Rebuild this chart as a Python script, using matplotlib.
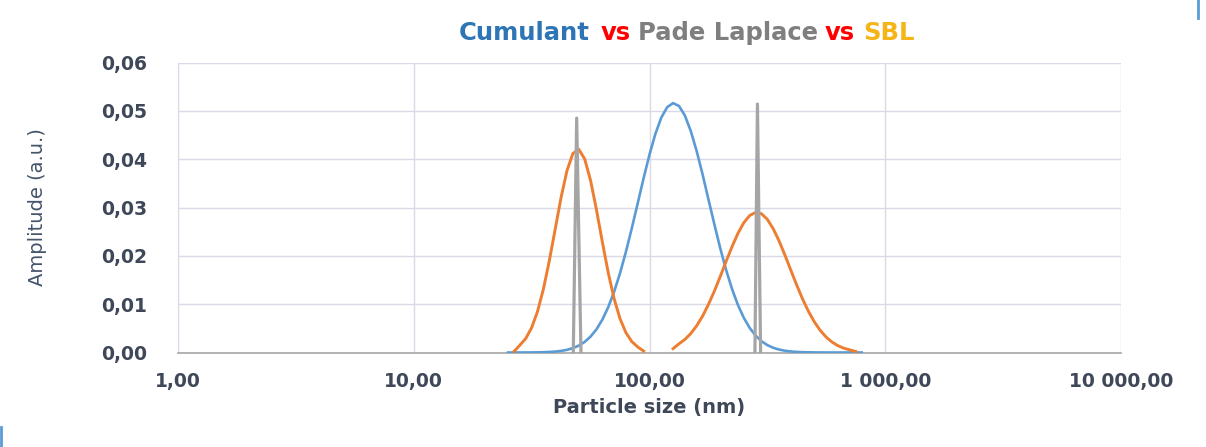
import numpy as np
import matplotlib
matplotlib.use("Agg")
import matplotlib.pyplot as plt
from matplotlib.lines import Line2D
from matplotlib.ticker import NullLocator

size_nm = [
    25.12, 26.61, 28.18, 29.85, 31.62, 33.50, 35.48, 37.58, 39.81, 42.17,
    44.67, 47.32, 50.12, 53.09, 56.23, 59.57, 63.10, 66.83, 70.79, 74.99,
    79.43, 84.14, 89.13, 94.41, 100.0, 105.9, 112.2, 118.9, 125.9, 133.4,
    141.3, 149.6, 158.5, 167.9, 177.8, 188.4, 199.5, 211.3, 223.9, 237.1,
    251.2, 266.1, 281.8, 298.5, 316.2, 335.0, 354.8, 375.8, 398.1, 421.7,
    446.7, 473.2, 501.2, 530.9, 562.3, 595.7, 631.0, 668.3, 707.9, 749.9,
    794.3,
]

cumulant = [
    0.0, 0.0, 0.000004, 0.000008, 0.000016, 0.00003, 0.00006, 0.00011, 0.00019, 0.00033,
    0.00055, 0.00090, 0.00142, 0.00219, 0.00329, 0.00479, 0.00680, 0.00938, 0.01258, 0.01642,
    0.02084, 0.02573, 0.03088, 0.03607, 0.04096, 0.04522, 0.04860, 0.05077, 0.05160, 0.05100,
    0.04903, 0.04584, 0.04168, 0.03687, 0.03171, 0.02654, 0.02160, 0.01709, 0.01315, 0.00985,
    0.00717, 0.00508, 0.00350, 0.00234, 0.00153, 0.00097, 0.00060, 0.00036, 0.00021, 0.00012,
    0.00007, 0.00004, 0.00002, 0.00001, 0.0, 0.0, 0.0, 0.0, 0.0, 0.0,
    0.0,
]

nan = float("nan")
sbl = [
    nan, 0.0002, 0.00151, 0.00288, 0.00512, 0.00849, 0.01313, 0.01896, 0.02553, 0.03209,
    0.03763, 0.04118, 0.04204, 0.04005, 0.03560, 0.02953, 0.02286, 0.01651, 0.01112, 0.00699,
    0.00410, 0.00225, 0.00115, 0.0003, nan, nan, nan, nan, 0.0008, 0.00180,
    0.00270, 0.00392, 0.00552, 0.00752, 0.00993, 0.01269, 0.01571, 0.01884, 0.02189, 0.02463,
    0.02685, 0.02834, 0.02898, 0.02871, 0.02754, 0.02559, 0.02304, 0.02009, 0.01696, 0.01388,
    0.01099, 0.00844, 0.00627, 0.00452, 0.00315, 0.00213, 0.00139, 0.00088, 0.00054, 0.0002,
    nan,
]

# Pade Laplace: two narrow spikes
pade_nm = [47.5, 49.1, 51.2, nan, 280.0, 287.0, 296.0]
pade_amp = [0.0, 0.0485, 0.0, nan, 0.0, 0.0514, 0.0]

x_ticks = [1, 10, 100, 1000, 10000]
x_tick_labels = ["1,00", "10,00", "100,00", "1 000,00", "10 000,00"]
y_ticks = [0.0, 0.01, 0.02, 0.03, 0.04, 0.05, 0.06]
y_tick_labels = ["0,00", "0,01", "0,02", "0,03", "0,04", "0,05", "0,06"]

title_parts = ["Cumulant", "vs", "Pade Laplace", "vs", "SBL"]
title_colors = ["#2E75B6", "#FF0000", "#7F7F7F", "#FF0000", "#F5B417"]

TXT = "#3F4858"
GRID = "#D9DAE6"

W, H = 1206, 447
fig = plt.figure(figsize=(W / 100, H / 100), dpi=100)
ax = fig.add_axes([178 / W, 1 - 352.5 / H, 943 / W, 290 / H])

ax.plot(size_nm, cumulant, color="#5B9BD5", lw=1.9, zorder=3)
ax.plot(size_nm, sbl, color="#ED7D31", lw=2.1, zorder=4)
ax.plot(pade_nm, pade_amp, color="#A5A5A5", lw=2.3, zorder=5)

ax.set_xscale("log")
ax.set_xlim(1, 10000)
ax.set_ylim(0, 0.06)
ax.set_xticks(x_ticks)
ax.set_xticklabels(x_tick_labels)
ax.xaxis.set_minor_locator(NullLocator())
ax.set_yticks(y_ticks)
ax.set_yticklabels(y_tick_labels)
ax.grid(True, color=GRID, lw=1.0, zorder=0)
ax.set_axisbelow(True)

ax.tick_params(axis="both", length=0, labelsize=13.5, labelcolor=TXT)
ax.tick_params(axis="y", pad=22)
ax.tick_params(axis="x", pad=14)
for lab in ax.get_xticklabels() + ax.get_yticklabels():
    lab.set_fontweight("bold")

for s in ("top", "right"):
    ax.spines[s].set_visible(False)
ax.spines["left"].set_color(GRID)
ax.spines["bottom"].set_color("#A6A6A6")
ax.spines["bottom"].set_linewidth(1.2)

ax.set_xlabel("Particle size (nm)", fontsize=14, fontweight="bold", color=TXT)
ax.xaxis.set_label_coords(0.5, -0.158)
ax.xaxis.label.set_va("top")
ax.set_ylabel("Amplitude (a.u.)", fontsize=14, color="#44546A")
ax.yaxis.set_label_coords(-0.139, 0.5)

# multi-coloured title, laid out piece by piece
fig.canvas.draw()
renderer = fig.canvas.get_renderer()
pieces = []
for part, col in zip(title_parts, title_colors):
    t = fig.text(0, 1 - 33 / H, part, color=col, fontsize=17.5, fontweight="bold",
                 va="center", ha="left")
    pieces.append(t)
widths = [p.get_window_extent(renderer).width for p in pieces]
gaps = [11, 7, 6, 9, 0]
total = sum(widths) + sum(gaps[:-1])
x0 = 687 - total / 2
for p, w, g in zip(pieces, widths, gaps):
    p.set_x(x0 / W)
    x0 += w + g

# small blue marks at the screenshot corners
fig.add_artist(Line2D([1198 / W, 1198 / W], [1, 1 - 18 / H], color="#5B9BD5", lw=2))
fig.add_artist(Line2D([1 / W, 1 / W], [20 / H, 0], color="#5B9BD5", lw=2))

fig.savefig("out.png", dpi=100)
